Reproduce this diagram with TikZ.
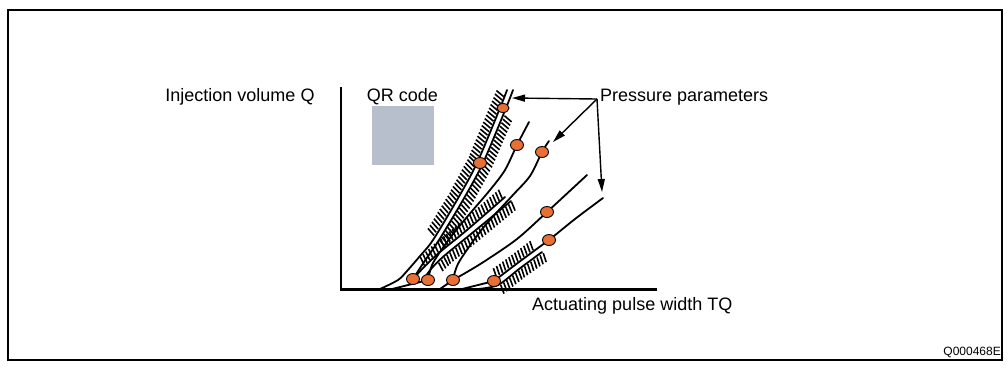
\documentclass[tikz,border=0pt]{standalone}
\usepackage{fontspec}
\setmainfont{Liberation Sans}
\usetikzlibrary{arrows.meta, decorations.markings, shapes.geometric}
\definecolor{dotorange}{RGB}{232,112,52}
\definecolor{qrgrey}{RGB}{184,191,204}

\tikzset{
  curve/.style={line width=1.8pt, line cap=round, line join=round},
  hatchleft/.style={postaction={decorate, decoration={markings,
      mark=between positions 0 and 1 step 3.8pt with {\draw[line width=1.6pt] (0pt,1pt) -- (2.8pt,10pt);}}}},
  hatchright/.style={postaction={decorate, decoration={markings,
      mark=between positions 0 and 1 step 3.8pt with {\draw[line width=1.6pt] (0pt,-1pt) -- (-2.8pt,-10pt);}}}},
  dot/.style={ellipse, draw, line width=0.9pt, fill=dotorange, minimum width=13pt, minimum height=11pt, inner sep=0pt},
  arrowline/.style={-{Triangle[length=13pt,width=7pt]}, line width=1.4pt},
  axislabel/.style={font=\fontsize{18}{20}\selectfont, inner sep=0pt},
  codelabel/.style={font=\fontsize{12}{14}\selectfont, inner sep=0pt}
}

\begin{document}
\begin{tikzpicture}[x=1pt, y=-1pt]
  \useasboundingbox (0,0) rectangle (1008,368);
  \draw[line width=2pt] (7.5,9.5) rectangle (1002,360);

  % axes
  \coordinate (ytop) at (341,87);
  \coordinate (origin) at (341,289.5);
  \coordinate (xend) at (657,289.5);
  \draw[line width=2.2pt] (ytop) -- (origin) -- (xend);

  \node[axislabel, anchor=base] (ylab) at (240,101) {Injection volume Q};
  \node[axislabel, anchor=base west] (xlab) at (532,310) {Actuating pulse width TQ};
  \node[axislabel, anchor=base] (qrlab) at (402.5,101) {QR code};
  \node[fill=qrgrey, minimum width=62pt, minimum height=59pt, inner sep=0pt] (qr) at (403,135.5) {};

  % band A
  \draw[curve] plot[smooth] coordinates {(380,289) (398,280) (407,271) (420,256) (433,240) (457,200) (477,163) (500,108) (507,90)};
  \draw[curve] plot[smooth] coordinates {(413,279) (424,262) (439,240) (463,200) (483,163) (506,108) (513,90)};
  \path[hatchleft] (435,236) -- (457,200) -- (477,163) -- (500,108) -- (505,96);
  \path[hatchright] (439,240) -- (463,200) -- (483,163) -- (505,112);

  % band B
  \draw[curve] plot[smooth] coordinates {(413,279) (425,266) (440,252) (467,230) (505,197)};
  \draw[curve] plot[smooth] coordinates {(424,279) (431,269) (444,256) (471,234) (511,201)};
  \path[hatchleft] (425,266) -- (440,252) -- (467,230) -- (503,199);
  \path[hatchright] (438,262) -- (444,256) -- (471,234) -- (511,201);

  % curves 2 to 4
  \draw[curve] (392,289) -- (428,280);
  \draw[curve] plot[smooth] coordinates {(428,280) (433,263) (450,238) (467,217) (490,190) (505,170) (517,145) (529,122)};
  \draw[curve] (440,289) -- (453,280);
  \draw[curve] plot[smooth] coordinates {(453,280) (459,262) (483,228) (512,196) (530,176) (542,152) (549,141)};
  \draw[curve] plot[smooth] coordinates {(453,280) (467,272) (485,261) (517,239) (547,212) (587,175)};

  % band C
  \draw[curve] (462,289) -- (494,281);
  \draw[curve] plot[smooth] coordinates {(494,281) (515,265) (538,248) (549,240) (575,219) (603,198)};
  \draw[curve] plot[smooth] coordinates {(478,289) (498,285) (519,269) (542,252)};
  \path[hatchleft] (497,278) -- (515,265) -- (536,249);
  \path[hatchright] (500,284) -- (519,269) -- (543,252);

  % measuring points
  \node[dot] (d1) at (413,279) {};
  \node[dot] (d2) at (428,280) {};
  \node[dot] (d3) at (453,280) {};
  \node[dot] (d4) at (494,281) {};
  \node[dot] (d5) at (480,163) {};
  \node[dot, minimum width=12pt, minimum height=9pt] (d6) at (503,108) {};
  \node[dot] (d7) at (517,145) {};
  \node[dot] (d8) at (542,152) {};
  \node[dot] (d9) at (547,212) {};
  \node[dot] (d10) at (549,240) {};

  % pressure parameters
  \node[axislabel, anchor=base west] (pplab) at (600,101) {Pressure parameters};
  \coordinate (pp) at (597,99);
  \coordinate (ppA) at (512,98);
  \coordinate (ppB) at (553,142);
  \coordinate (ppC) at (602,192);
  \draw[arrowline] (pp) -- (ppA);
  \draw[arrowline] (pp) -- (ppB);
  \draw[arrowline] (pp) -- (ppC);

  \node[codelabel, anchor=base east] (code) at (1001,355) {Q000468E};
\end{tikzpicture}
\end{document}
